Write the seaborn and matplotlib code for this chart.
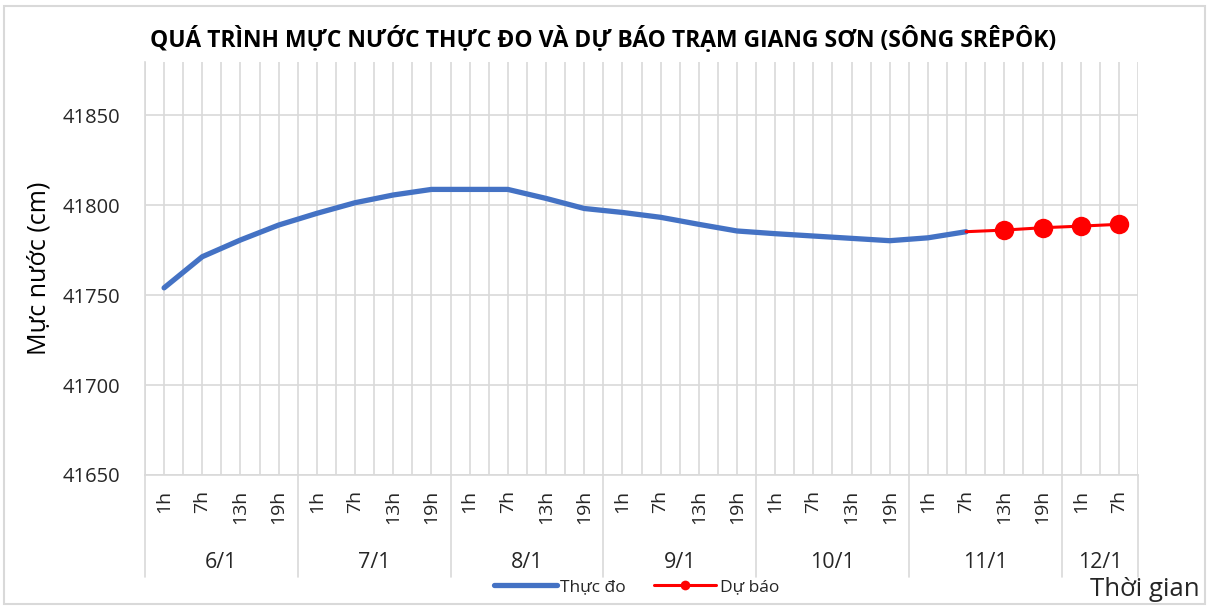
import numpy as np
import pandas as pd
import matplotlib.pyplot as plt
import matplotlib.transforms as mtransforms
from matplotlib.patches import Rectangle
import seaborn as sns

days = ["6/1", "7/1", "8/1", "9/1", "10/1", "11/1", "12/1"]
hours_per_day = [["1h", "7h", "13h", "19h"]] * 6 + [["1h", "7h"]]

thuc_do = [41754.0, 41771.3, 41780.6, 41788.9, 41795.4, 41801.3, 41805.6, 41808.7,
           41808.7, 41808.7, 41803.7, 41798.1, 41795.9, 41793.2, 41789.3, 41785.6,
           41784.1, 41782.8, 41781.5, 41780.2, 41781.8, 41785.2]
du_bao = [41785.2, 41786.1, 41787.4, 41788.3, 41789.3]

hour_labels = [h for hs in hours_per_day for h in hs]
n = len(hour_labels)

df_obs = pd.DataFrame({"idx": np.arange(len(thuc_do)), "value": thuc_do})
start = len(thuc_do) - 1
df_fc = pd.DataFrame({"idx": np.arange(start, start + len(du_bao)), "value": du_bao})

sns.set_style("white")
plt.rcParams["font.family"] = ["Open Sans", "DejaVu Sans"]

fig = plt.figure(figsize=(12.11, 6.08), dpi=100)
ax = fig.add_axes([145 / 1211, 1 - 475 / 608, (1138 - 145) / 1211, (475 - 62) / 608])

grid_c = "#d9d9d9"
txt_c = "#262626"
sns.lineplot(data=df_obs, x="idx", y="value", ax=ax, color="#4472C4", lw=3.8,
             label="Thực đo", solid_capstyle="round")
sns.lineplot(data=df_fc, x="idx", y="value", ax=ax, color="#FF0000", lw=2.2,
             marker="o", markersize=14, markeredgewidth=0, markevery=slice(1, None),
             label="Dự báo")

ax.set_xlim(-0.5, n - 0.5)
ax.set_ylim(41650, 41879.5)
ax.set_yticks(np.arange(41650, 41851, 50))
ax.set_xticks(np.arange(-0.5, n, 0.5))
ax.set_xticklabels([])
ax.tick_params(axis="both", length=0, labelsize=14.5, colors=txt_c)
ax.tick_params(axis="y", pad=18)
ax.grid(True, color=grid_c, lw=1.2)
for s in ["top", "right"]:
    ax.spines[s].set_visible(False)
for s in ["left", "bottom"]:
    ax.spines[s].set_color(grid_c)
    ax.spines[s].set_linewidth(1.2)

ax.set_xlabel("")
ax.set_ylabel("Mực nước (cm)", fontsize=18, color="#000000", labelpad=8)

# multi-level category axis
trans = mtransforms.blended_transform_factory(ax.transData, ax.transAxes)
for i, h in enumerate(hour_labels):
    ax.text(i, -0.036, h, rotation=90, ha="center", va="top", fontsize=14,
            color=txt_c, transform=trans)
pos = 0
bounds = [-0.5]
for d, hs in zip(days, hours_per_day):
    c = pos + (len(hs) - 1) / 2
    ax.text(c, -0.213, d, ha="center", va="center", fontsize=15.5,
            color=txt_c, transform=trans)
    pos += len(hs)
    bounds.append(pos - 0.5)
for b in bounds:
    ax.plot([b, b], [0, -0.247], color=grid_c, lw=1.2, transform=trans, clip_on=False)

leg = ax.legend(loc="center", bbox_to_anchor=(0.495, -0.272), ncol=2, frameon=False,
                fontsize=12.5, handlelength=3.6, handletextpad=0.2, columnspacing=1.6,
                markerscale=0.5)
for t in leg.get_texts():
    t.set_color(txt_c)
fig.text(1145 / 1211, 1 - 589 / 608, "Thời gian", ha="center", va="center",
         fontsize=18.5, color=txt_c)

fig.text(0.498, 1 - 40 / 608,
         "QUÁ TRÌNH MỰC NƯỚC THỰC ĐO VÀ DỰ BÁO TRẠM GIANG SƠN (SÔNG SRÊPÔK)",
         ha="center", va="center", fontsize=16.5, fontweight="bold", color="#000000")

fig.patches.append(Rectangle((4 / 1211, 4 / 608), 1 - 10 / 1211, 1 - 10 / 608,
                             transform=fig.transFigure, fill=False,
                             edgecolor=grid_c, lw=1.5))

fig.savefig("out.png", dpi=100)
